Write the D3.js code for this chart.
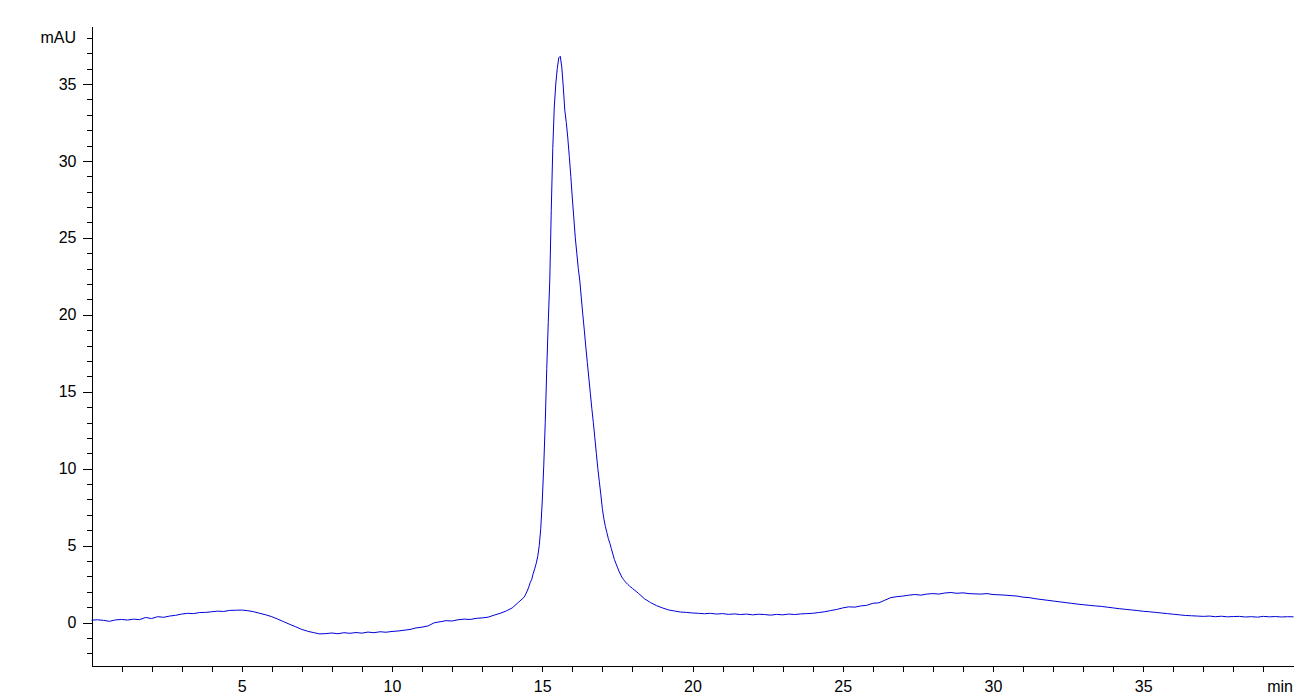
<!DOCTYPE html>
<html>
<head>
<meta charset="utf-8">
<script src="https://cdnjs.cloudflare.com/ajax/libs/d3/7.8.5/d3.min.js"></script>
<style>
  html, body { margin: 0; padding: 0; background: #fff; }
  svg { display: block; }
  .axis text { font-family: "Liberation Sans", Arial, sans-serif; font-size: 16px; fill: #000; }
  .axis path, .axis line { stroke: #000; shape-rendering: crispEdges; }
</style>
</head>
<body>
<svg id="chart"></svg>
<script>
const width = 1294, height = 694;

const baselineStart = 0, baselineStep = 0.2;
const baselineValues = [
  0.15, 0.18, 0.14, 0.08, 0.17, 0.20, 0.16, 0.22, 0.19, 0.33,
  0.26, 0.38, 0.34, 0.42, 0.47, 0.55, 0.60, 0.58, 0.65, 0.66,
  0.70, 0.74, 0.72, 0.79, 0.80, 0.81, 0.77, 0.70, 0.60, 0.50,
  0.38, 0.22, 0.05, -0.12, -0.28, -0.45, -0.57, -0.66, -0.74, -0.72,
  -0.68, -0.73, -0.66, -0.70, -0.65, -0.69, -0.62, -0.66, -0.60, -0.63,
  -0.58, -0.55, -0.50, -0.45, -0.35, -0.30, -0.22, -0.02, 0.05, 0.12,
  0.10, 0.18, 0.22, 0.20, 0.27, 0.30, 0.35, 0.48, 0.60, 0.75,
  0.95, 1.30, 1.65
];

const peakStart = 14.45, peakStep = 0.05;
const peakValues = [
  1.85, 2.05, 2.3, 2.6, 2.8, 3.2, 3.5, 3.85, 4.3, 5.0,
  6.1, 7.9, 10.2, 13.0, 16.5, 19.5, 22.2, 26.8, 30.8, 33.5,
  35.0, 36.0, 36.7, 36.8, 36.1, 34.8, 33.3, 32.5, 31.5, 30.3,
  29.0, 27.6, 26.3, 25.0, 24.0, 23.0, 22.2, 21.1, 20.0, 19.0,
  17.9, 16.9, 15.9, 14.9, 13.9, 13.0, 12.0, 11.0, 10.0, 9.15,
  8.3, 7.4, 6.75, 6.25, 5.85, 5.45, 5.15, 4.8, 4.45, 4.1,
  3.85, 3.6, 3.35, 3.15, 2.95, 2.8, 2.68, 2.57, 2.47, 2.38,
  2.3, 2.22
];

const tailStart = 18.2, tailStep = 0.2;
const tailValues = [
  1.9, 1.55, 1.3, 1.1, 0.95, 0.82, 0.75, 0.68, 0.66, 0.62,
  0.60, 0.57, 0.60, 0.55, 0.58, 0.53, 0.56, 0.52, 0.55, 0.50,
  0.54, 0.52, 0.48, 0.53, 0.50, 0.55, 0.52, 0.56, 0.58, 0.60,
  0.65, 0.70, 0.78, 0.85, 0.95, 1.02, 1.00, 1.08, 1.12, 1.25,
  1.28, 1.45, 1.62, 1.68, 1.72, 1.78, 1.82, 1.78, 1.85, 1.88,
  1.85, 1.92, 1.95, 1.90, 1.93, 1.88, 1.86, 1.85, 1.88, 1.82,
  1.80, 1.78, 1.75, 1.72, 1.65, 1.62, 1.55, 1.50, 1.45, 1.40,
  1.35, 1.30, 1.25, 1.20, 1.16, 1.12, 1.08, 1.05, 1.00, 0.95,
  0.90, 0.86, 0.82, 0.78, 0.73, 0.70, 0.66, 0.62, 0.58, 0.54,
  0.50, 0.46, 0.44, 0.42, 0.40, 0.42, 0.38, 0.41, 0.37, 0.39,
  0.40, 0.36, 0.38, 0.35, 0.40, 0.37, 0.39, 0.36, 0.38, 0.37
];

const xMajorTicks = [5, 10, 15, 20, 25, 30, 35];
const yMajorTicks = [0, 5, 10, 15, 20, 25, 30, 35];
const xUnitLabel = "min", yUnitLabel = "mAU";

const toPoints = (start, step, values) => values.map((v, i) => [start + i * step, v]);
const trace = [].concat(
  toPoints(baselineStart, baselineStep, baselineValues),
  toPoints(peakStart, peakStep, peakValues),
  toPoints(tailStart, tailStep, tailValues)
);

const svg = d3.select("#chart")
    .attr("width", width)
    .attr("height", height);

const x = d3.scaleLinear().domain([0, 40]).range([91.5, 1293.5]);
const y = d3.scaleLinear().domain([-2.76, 38.77]).range([665, 26]);

// y axis: minor ticks every unit, major ticks every 5
svg.append("g")
    .attr("class", "axis")
    .attr("transform", "translate(91.5,0)")
    .call(d3.axisLeft(y).tickValues(d3.range(-2, 39)).tickSize(5).tickSizeOuter(0).tickFormat(""));

svg.append("g")
    .attr("class", "axis")
    .attr("transform", "translate(91.5,0)")
    .call(d3.axisLeft(y).tickValues(yMajorTicks).tickSize(9).tickPadding(6).tickSizeOuter(0))
    .call(g => g.select(".domain").remove());

svg.append("g")
    .attr("class", "axis")
    .append("text")
    .attr("x", 76)
    .attr("y", y(38))
    .attr("dy", "0.32em")
    .attr("text-anchor", "end")
    .text(yUnitLabel);

// x axis
svg.append("g")
    .attr("class", "axis")
    .attr("transform", "translate(0,665.5)")
    .call(d3.axisBottom(x).tickValues(d3.range(1, 40)).tickSize(6).tickSizeOuter(0).tickFormat(""));

svg.append("g")
    .attr("class", "axis")
    .attr("transform", "translate(0,665.5)")
    .call(d3.axisBottom(x).tickValues(xMajorTicks).tickSize(6).tickPadding(9).tickSizeOuter(0))
    .call(g => g.select(".domain").remove());

// unit label pulled in so it stays inside the frame
svg.append("g")
    .attr("class", "axis")
    .append("text")
    .attr("x", width - 1)
    .attr("y", 665.5 + 15)
    .attr("dy", "0.71em")
    .attr("text-anchor", "end")
    .text(xUnitLabel);

// signal trace
const line = d3.line()
    .x(d => x(d[0]))
    .y(d => y(d[1]));

svg.append("path")
    .datum(trace)
    .attr("fill", "none")
    .attr("stroke", "#0000d8")
    .attr("stroke-width", 1)
    .attr("d", line);
</script>
</body>
</html>
